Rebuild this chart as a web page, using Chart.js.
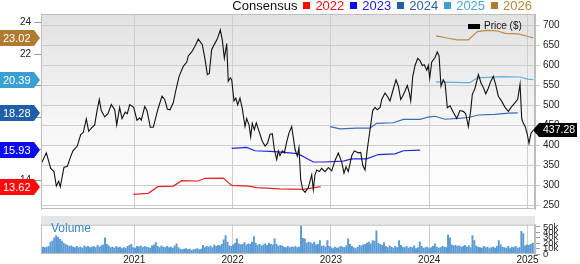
<!DOCTYPE html>
<html>
<head>
<meta charset="utf-8">
<script src="https://cdn.jsdelivr.net/npm/chart.js@4.4.1/dist/chart.umd.min.js"></script>
<style>
html,body{margin:0;padding:0;background:#fff;width:580px;height:264px;overflow:hidden;font-family:"Liberation Sans",Arial,sans-serif;}
#wrap{position:relative;width:580px;height:264px;}
#c1{position:absolute;left:0;top:0;}
#c2{position:absolute;left:0;top:216px;}
#legend{position:absolute;top:-1px;right:48px;font-size:13px;white-space:nowrap;line-height:14px;}
#legend span{display:inline-block;vertical-align:top;}
#legend .box{width:7px;height:7px;margin:3px 5px 0 6px;}
#volLabel{position:absolute;left:51px;top:221px;font-size:12px;color:#3a87c8;}
</style>
</head>
<body>
<div id="wrap">
  <canvas id="c1" width="580" height="218"></canvas>
  <canvas id="c2" width="580" height="48"></canvas>
  <div id="legend"></div>
  <div id="volLabel">Volume</div>
</div>
<script>
// ---------- DATA ----------
const yearTicks = [2021, 2022, 2023, 2024, 2025];
const epsTicks = [14, 16, 18, 20, 22, 24];
const priceTicks = [250, 300, 350, 400, 450, 500, 550, 600, 650, 700];
const volTicks = [0, 10, 20, 30, 40, 50];
const consensusYears = ['2022', '2023', '2024', '2025', '2026'];

// price: [decimal year, $]
const price = [
[2020.054,354],[2020.105,381],[2020.150,342],[2020.183,334],[2020.207,298],[2020.231,310],[2020.247,296],
[2020.285,345],[2020.318,347],[2020.349,369],[2020.376,386],[2020.420,398],[2020.455,427],[2020.481,432],
[2020.512,466],[2020.536,435],[2020.563,443],[2020.597,451],[2020.621,487],[2020.644,515],[2020.664,487],
[2020.699,471],[2020.732,479],[2020.766,502],[2020.801,489],[2020.821,451],[2020.851,495],[2020.875,467],
[2020.908,483],[2020.929,479],[2020.953,502],[2020.994,495],[2021.027,463],[2021.055,469],[2021.071,463],
[2021.106,497],[2021.129,487],[2021.163,445],[2021.193,445],[2021.241,491],[2021.282,523],[2021.309,515],
[2021.336,491],[2021.363,489],[2021.397,507],[2021.421,536],[2021.455,572],[2021.498,598],[2021.533,608],
[2021.549,624],[2021.584,634],[2021.617,648],[2021.651,666],[2021.692,652],[2021.719,616],[2021.743,577],
[2021.763,580],[2021.787,640],[2021.821,656],[2021.844,666],[2021.875,689],[2021.895,664],[2021.916,618],
[2021.940,655],[2021.956,560],[2021.977,569],[2021.991,564],[2022.014,511],[2022.032,518],[2022.052,501],
[2022.075,518],[2022.099,491],[2022.126,447],[2022.143,467],[2022.167,451],[2022.184,421],[2022.200,455],
[2022.221,439],[2022.241,456],[2022.269,435],[2022.302,410],[2022.330,398],[2022.357,406],[2022.380,427],
[2022.404,429],[2022.424,390],[2022.449,364],[2022.465,386],[2022.482,374],[2022.506,386],[2022.526,381],
[2022.550,408],[2022.574,431],[2022.601,447],[2022.635,390],[2022.658,373],[2022.675,394],[2022.693,314],
[2022.713,289],[2022.737,282],[2022.770,294],[2022.805,326],[2022.821,289],[2022.838,326],[2022.856,338],
[2022.882,334],[2022.906,342],[2022.940,334],[2022.974,344],[2023.008,336],[2023.042,362],[2023.075,381],
[2023.110,358],[2023.133,330],[2023.154,346],[2023.177,334],[2023.212,374],[2023.238,386],[2023.279,381],
[2023.303,382],[2023.324,350],[2023.347,338],[2023.370,390],[2023.398,439],[2023.425,487],[2023.449,495],
[2023.472,489],[2023.500,495],[2023.517,515],[2023.550,531],[2023.574,523],[2023.601,511],[2023.629,536],
[2023.662,564],[2023.686,548],[2023.710,515],[2023.730,523],[2023.754,536],[2023.777,550],[2023.798,531],
[2023.812,511],[2023.832,572],[2023.856,600],[2023.883,618],[2023.906,612],[2023.930,600],[2023.950,602],
[2023.975,588],[2023.991,600],[2024.005,568],[2024.025,608],[2024.059,620],[2024.082,634],[2024.100,624],
[2024.120,548],[2024.143,564],[2024.161,556],[2024.184,494],[2024.212,499],[2024.245,483],[2024.280,467],
[2024.313,487],[2024.347,485],[2024.371,479],[2024.398,447],[2024.422,487],[2024.438,527],[2024.466,543],
[2024.500,577],[2024.527,556],[2024.550,545],[2024.575,529],[2024.601,543],[2024.626,560],[2024.652,573],
[2024.676,552],[2024.703,523],[2024.738,510],[2024.771,495],[2024.805,485],[2024.839,497],[2024.873,507],
[2024.900,515],[2024.924,553],[2024.941,467],[2024.957,455],[2024.975,448],[2024.998,427],[2025.015,405],
[2025.036,431],[2025.059,437.28]
];

// consensus EPS: [decimal year, EPS]
const eps2022 = [[2020.990,13.13],[2021.142,13.20],[2021.239,13.62],[2021.397,13.66],[2021.482,14.00],
  [2021.651,13.98],[2021.719,14.15],[2021.905,14.16],[2021.991,13.70],[2022.160,13.66],[2022.245,13.56],
  [2022.482,13.48],[2022.719,13.45],[2022.896,13.62]];
const eps2023 = [[2021.991,16.04],[2022.143,16.10],[2022.228,15.89],[2022.431,15.83],[2022.635,15.73],
  [2022.668,15.69],[2022.821,15.18],[2022.923,15.18],[2023.126,15.24],[2023.212,15.38],[2023.364,15.38],
  [2023.482,15.65],[2023.652,15.69],[2023.737,15.89],[2023.906,15.93]];
const eps2024 = [[2022.991,17.41],[2023.093,17.27],[2023.262,17.32],[2023.397,17.32],[2023.466,17.62],
  [2023.635,17.66],[2023.737,17.87],[2023.906,17.87],[2023.991,18.02],[2024.059,18.07],[2024.161,17.88],
  [2024.296,17.93],[2024.398,17.99],[2024.500,18.15],[2024.669,18.19],[2024.805,18.27],[2024.900,18.28]];
const eps2025 = [[2024.069,20.24],[2024.364,20.20],[2024.415,20.20],[2024.491,20.50],[2024.738,20.57],
  [2024.924,20.55],[2025.000,20.42],[2025.059,20.39]];
const eps2026 = [[2024.069,23.15],[2024.194,23.00],[2024.283,22.90],[2024.398,22.90],[2024.491,23.42],
  [2024.588,23.50],[2024.687,23.47],[2024.771,23.31],[2024.906,23.27],[2025.008,23.11],[2025.059,23.02]];

// weekly volume (k), first week starting 2020-01-20
const volStart = '2020-01-20';
const volume = [
12,13,12,13,14,22,24,30,34,31, 27,24,20,18,16,14,15,13,12,14,
12,13,11,15,13,14,12,13,14,12, 16,13,15,17,30,18,15,12,13,11,
14,12,13,10,12,11,14,16,18,12, 11,14,13,15,12,14,13,12,11,15,
17,21,14,12,15,13,12,14,12,13, 11,15,19,12,9,8,9,10,8,9,
7,8,9,10,8,9,16,12,14,13, 15,12,17,14,16,15,18,26,34,22,
15,14,17,20,28,19,17,18,21,17, 19,18,22,32,20,16,18,15,17,19,
16,20,18,17,28,18,14,16,15,13, 12,14,12,13,13,14,12,13,52,29,
28,20,22,21,19,22,17,18,25,14, 15,13,25,14,12,10,13,11,12,14,
13,12,15,28,18,14,12,10,13,16, 15,17,18,20,22,19,25,24,43,20,
18,16,21,14,12,15,13,11,14,12, 25,16,13,12,14,11,13,12,15,10,
12,22,14,11,12,13,10,12,14,19, 13,11,12,14,13,12,35,30,17,15,
16,14,15,13,14,16,13,15,12,34, 25,15,13,12,11,14,12,13,10,12,
13,11,14,25,17,13,12,11,14,10, 13,12,14,11,12,42,38,15,17,16,
18,20,21
];

// ---------- helpers ----------
function decYear(ms){
  const d = new Date(ms); const y = d.getUTCFullYear();
  const s = Date.UTC(y,0,1), e = Date.UTC(y+1,0,1);
  return y + (ms - s)/(e - s);
}
const volStartMs = Date.parse(volStart + 'T00:00:00Z');
const volData = volume.map((v,i)=>({x: decYear(volStartMs + i*7*864e5), y: v}));
const pts = arr => arr.map(p=>({x:p[0], y:p[1]}));

const X_MIN = 2020.051, X_MAX = 2025.076;
const FONT = '"Liberation Sans", Arial, sans-serif';
Chart.defaults.font.family = FONT;
Chart.defaults.color = '#333';

const seriesColors = {
  '2022': {line:'#e3262a', badge:'#ff0a0a', text:'#e8141c'},
  '2023': {line:'#2424d6', badge:'#0a0af5', text:'#1b1bd8'},
  '2024': {line:'#3a6cb3', badge:'#1f5ea8', text:'#2b5fa6'},
  '2025': {line:'#62b0df', badge:'#3a9fd2', text:'#4aa4d6'},
  '2026': {line:'#bb8c48', badge:'#b07b30', text:'#b88538'}
};
const epsSeries = {'2022':eps2022,'2023':eps2023,'2024':eps2024,'2025':eps2025,'2026':eps2026};

// legend
const lg = document.getElementById('legend');
let html = '<span style="color:#111">Consensus</span>';
consensusYears.forEach(y=>{
  html += '<span class="box" style="background:'+seriesColors[y].badge+'"></span><span style="color:'+seriesColors[y].text+'">'+y+'</span>';
});
lg.innerHTML = html;

function setTicks(list){ return s => { s.ticks = list.map(v=>({value:v})); }; }
const plain = v => String(v);

// ---------- main chart ----------
const mainDeco = {
  id:'mainDeco',
  beforeDraw(chart){
    const {ctx, chartArea:a} = chart;
    const g = ctx.createLinearGradient(0,a.top,0,a.bottom);
    g.addColorStop(0,'#e2e2e2'); g.addColorStop(0.55,'#f6f6f6'); g.addColorStop(1,'#ffffff');
    ctx.save(); ctx.fillStyle = g; ctx.fillRect(a.left,a.top,a.right-a.left,a.bottom-a.top); ctx.restore();
  },
  afterDraw(chart){
    const {ctx, chartArea:a} = chart;
    ctx.save();
    ctx.strokeStyle = '#bdbdbd'; ctx.lineWidth = 1;
    ctx.strokeRect(a.left+0.5, a.top+0.5, a.right-a.left-1, a.bottom-a.top-1);
    // Price legend
    ctx.fillStyle = '#000';
    ctx.fillRect(a.right-67, a.top+10, 12, 5);
    ctx.font = '10px ' + FONT; ctx.textBaseline = 'middle'; ctx.textAlign = 'left';
    ctx.fillStyle = '#111';
    ctx.fillText('Price ($)', a.right-51, a.top+12.5);
    // EPS badges on left
    const ys = chart.scales.yEps;
    consensusYears.forEach(yr=>{
      const s = epsSeries[yr]; const v = s[s.length-1][1];
      const py = Math.round(ys.getPixelForValue(v));
      ctx.fillStyle = seriesColors[yr].badge;
      ctx.beginPath();
      ctx.moveTo(0, py-8); ctx.lineTo(34, py-8); ctx.lineTo(40, py); ctx.lineTo(34, py+8); ctx.lineTo(0, py+8);
      ctx.closePath(); ctx.fill();
      ctx.fillStyle = '#fff'; ctx.font = '11px ' + FONT; ctx.textAlign = 'left';
      ctx.fillText(v.toFixed(2), 3, py+0.5);
    });
    // price badge on right
    const yp = chart.scales.yPrice;
    const last = price[price.length-1][1];
    const pp = Math.round(yp.getPixelForValue(last));
    ctx.fillStyle = '#000';
    ctx.beginPath();
    ctx.moveTo(a.right-2, pp); ctx.lineTo(a.right+4, pp-7); ctx.lineTo(577, pp-7); ctx.lineTo(577, pp+7);
    ctx.lineTo(a.right+4, pp+7); ctx.closePath(); ctx.fill();
    ctx.fillStyle = '#fff'; ctx.font = '10.5px ' + FONT; ctx.textAlign = 'left';
    ctx.fillText(last.toFixed(2), a.right+8, pp+0.5);
    ctx.restore();
  }
};

const datasets = [{
  label:'Price ($)', data: pts(price), yAxisID:'yPrice', borderColor:'#111', borderWidth:1.1,
  pointRadius:0, tension:0, order:0
}];
consensusYears.forEach(yr=>{
  datasets.push({label:yr, data: pts(epsSeries[yr]), yAxisID:'yEps', borderColor: seriesColors[yr].line,
    borderWidth:1.2, pointRadius:0, tension:0, order:1});
});

new Chart(document.getElementById('c1'), {
  type:'line',
  data:{datasets},
  options:{
    responsive:false, animation:false, devicePixelRatio:1,
    layout:{padding:{top:14,bottom:2,left:0,right:0}},
    plugins:{legend:{display:false}, tooltip:{enabled:false}},
    scales:{
      x:{type:'linear', min:X_MIN, max:X_MAX, position:'bottom',
         afterBuildTicks:setTicks(yearTicks), afterFit:s=>{s.height=0;},
         ticks:{display:false}, grid:{color:'#cdcdcd', drawTicks:false}, border:{display:false}},
      yEps:{type:'linear', position:'left', min:12.21, max:24.53,
         afterBuildTicks:setTicks(epsTicks), afterFit:s=>{s.width=41;},
         ticks:{font:{size:10}, color:'#222', padding:3, callback:plain},
         grid:{drawOnChartArea:false, drawTicks:true, tickLength:7, color:'#999'},
         border:{display:true, color:'#bdbdbd'}},
      yPrice:{type:'linear', position:'right', min:240.3, max:729,
         afterBuildTicks:setTicks(priceTicks), afterFit:s=>{s.width=45;},
         ticks:{font:{size:10}, color:'#222', padding:3, callback:plain},
         grid:{color:'#cdcdcd', drawTicks:true, tickLength:5},
         border:{display:true, color:'#bdbdbd'}}
    }
  },
  plugins:[mainDeco]
});

// ---------- volume chart ----------
const volDeco = {
  id:'volDeco',
  beforeDraw(chart){
    const {ctx, chartArea:a} = chart;
    ctx.save(); ctx.fillStyle = '#e6e6e6'; ctx.fillRect(a.left, 0, a.right-a.left, a.top); ctx.restore();
  },
  afterDraw(chart){
    const {ctx, chartArea:a} = chart;
    ctx.save(); ctx.strokeStyle = '#bdbdbd'; ctx.lineWidth = 1;
    ctx.strokeRect(a.left+0.5, a.top+0.5, a.right-a.left-1, a.bottom-a.top-1);
    ctx.restore();
  }
};

new Chart(document.getElementById('c2'), {
  type:'bar',
  data:{datasets:[{label:'Volume', data: volData, xAxisID:'x', yAxisID:'yVol',
    backgroundColor:'#5b9bd5', borderWidth:0, barThickness:1.3}]},
  options:{
    responsive:false, animation:false, devicePixelRatio:1,
    layout:{padding:{top:3,bottom:0,left:41,right:0}},
    plugins:{legend:{display:false}, tooltip:{enabled:false}},
    scales:{
      x:{type:'linear', min:X_MIN, max:X_MAX, offset:false,
         afterBuildTicks:setTicks(yearTicks), afterFit:s=>{s.height=10;},
         ticks:{font:{size:10}, color:'#222', padding:0, autoSkip:false, maxRotation:0, callback:plain},
         grid:{color:'#cdcdcd', drawTicks:false, offset:false}, border:{display:false}},
      yVol:{type:'linear', position:'right', min:0, max:54.2,
         afterBuildTicks:setTicks(volTicks), afterFit:s=>{s.width=45;},
         ticks:{font:{size:9.5}, color:'#222', padding:3, autoSkip:false,
                callback:v=> v===0 ? '0' : v+'k'},
         grid:{drawOnChartArea:false, drawTicks:true, tickLength:5, color:'#999'},
         border:{display:true, color:'#bdbdbd'}}
    }
  },
  plugins:[volDeco]
});
</script>
</body>
</html>
